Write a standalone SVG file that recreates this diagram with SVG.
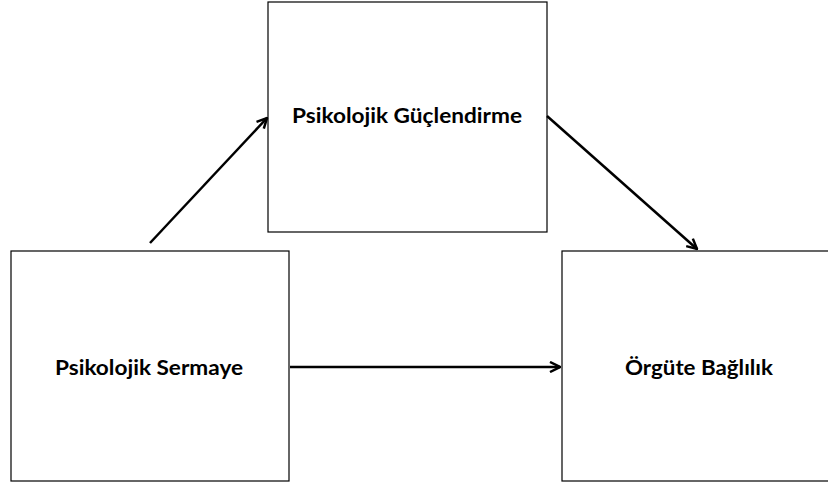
<svg xmlns="http://www.w3.org/2000/svg" width="828" height="487" viewBox="0 0 828 487">
<style>
.box{fill:#fff;stroke:#000;stroke-width:1.2}
.lbl{font-family:Lato,"Liberation Sans",sans-serif;font-weight:bold;font-size:20px;fill:#000;text-anchor:middle}
.con{stroke:#000;stroke-width:2.5;fill:none;marker-end:url(#ah)}
</style>
<defs>
<marker id="ah" viewBox="0 0 10 10" refX="9" refY="5" markerWidth="5" markerHeight="5" orient="auto" markerUnits="strokeWidth">
<path d="M1,1 L9,5 L1,9" fill="none" stroke="#000" stroke-width="2"/>
</marker>
</defs>
<rect width="828" height="487" fill="#fff"/>
<g id="n-guclendirme">
<rect class="box" x="268" y="2" width="279" height="230"/>
<text class="lbl" x="407" y="123" textLength="230" lengthAdjust="spacingAndGlyphs">Psikolojik Güçlendirme</text>
</g>
<g id="n-sermaye">
<rect class="box" x="11" y="251" width="278" height="230"/>
<text class="lbl" x="149" y="375" textLength="188" lengthAdjust="spacingAndGlyphs">Psikolojik Sermaye</text>
</g>
<g id="n-baglilik">
<rect class="box" x="562" y="251" width="280" height="230"/>
<text class="lbl" x="699" y="375" textLength="148" lengthAdjust="spacingAndGlyphs">Örgüte Bağlılık</text>
</g>
<g id="connectors">
<line class="con" x1="150" y1="243" x2="267" y2="118"/>
<line class="con" x1="547" y1="116" x2="697" y2="249"/>
<line class="con" x1="290" y1="367" x2="560" y2="367"/>
</g>
</svg>
